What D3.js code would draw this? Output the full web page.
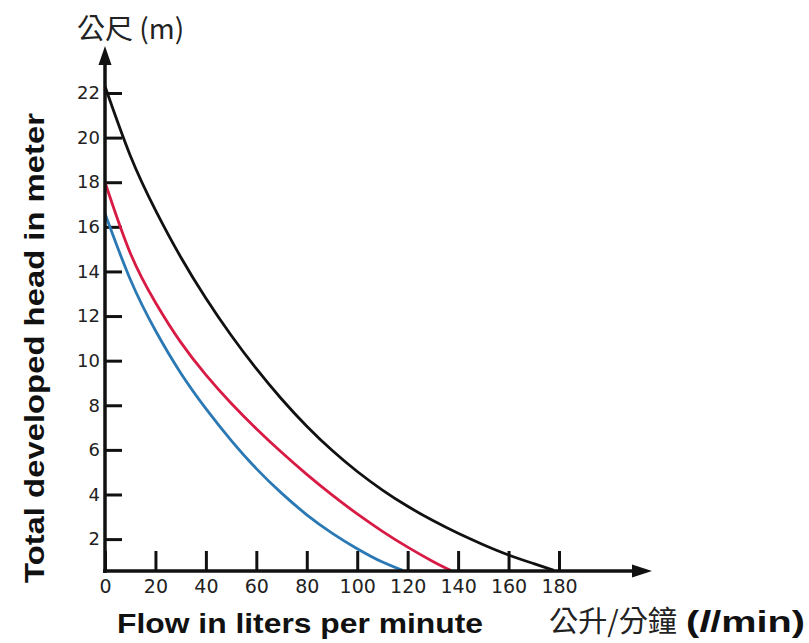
<!DOCTYPE html>
<html>
<head>
<meta charset="utf-8">
<script src="https://cdn.jsdelivr.net/npm/d3@7"></script>
<style>
  html, body { margin: 0; padding: 0; background: #fff; }
  svg { display: block; }
</style>
</head>
<body>
<script>
// ---- data ----
const xTicks = [0, 20, 40, 60, 80, 100, 120, 140, 160, 180];
const yTicks = [2, 4, 6, 8, 10, 12, 14, 16, 18, 20, 22];

const blackFlow = [0, 10, 20, 30, 40, 50, 60, 70, 80, 90, 100, 110, 120, 130, 140, 150, 160, 170, 178];
const blackHead = [22.3, 19.2, 16.75, 14.65, 12.8, 11.14, 9.64, 8.28, 7.06, 5.98, 5.03, 4.2, 3.47, 2.83, 2.26, 1.75, 1.29, 0.9, 0.6];

const redFlow = [0, 10, 20, 30, 40, 50, 60, 70, 80, 90, 100, 110, 120, 130, 137];
const redHead = [18.0, 14.83, 12.61, 10.83, 9.36, 8.09, 6.95, 5.89, 4.9, 3.98, 3.13, 2.35, 1.64, 1.0, 0.6];

const blueFlow = [0, 10, 20, 30, 40, 50, 60, 70, 80, 90, 100, 110, 118];
const blueHead = [16.6, 13.65, 11.35, 9.45, 7.85, 6.43, 5.16, 4.06, 3.09, 2.27, 1.57, 0.97, 0.6];

const seriesList = [
  { flow: blackFlow, head: blackHead, color: "#111111" },
  { flow: redFlow, head: redHead, color: "#d81b45" },
  { flow: blueFlow, head: blueHead, color: "#2a78b4" }
];

const yBase = 0.57; // value at which the horizontal axis is drawn

// ---- layout ----
const W = 809, H = 643;
const svg = d3.select("body").append("svg").attr("width", W).attr("height", H);
svg.append("rect").attr("width", W).attr("height", H).attr("fill", "#fff");

const x = d3.scaleLinear().domain([0, 180]).range([105, 559]);
const y = d3.scaleLinear().domain([yBase, 22]).range([571, 93]);

const axisX0 = x(0), axisY0 = y(yBase);

// x axis ticks (pointing up)
const gx = svg.append("g").attr("transform", `translate(0,${axisY0})`)
  .call(d3.axisBottom(x).tickValues(xTicks).tickSizeInner(-20).tickSizeOuter(0).tickPadding(9));
gx.select(".domain").remove();
gx.selectAll(".tick line").attr("stroke", "#111").attr("stroke-width", 3);
gx.selectAll(".tick text").attr("fill", "#222").style("font-family", "DejaVu Sans, sans-serif").style("font-size", "19px");

// y axis ticks (pointing right)
const gy = svg.append("g").attr("transform", `translate(${axisX0},0)`)
  .call(d3.axisLeft(y).tickValues(yTicks).tickSizeInner(-17).tickSizeOuter(0).tickPadding(5));
gy.select(".domain").remove();
gy.selectAll(".tick line").attr("stroke", "#111").attr("stroke-width", 3);
gy.selectAll(".tick text").attr("fill", "#222").style("font-family", "DejaVu Sans, sans-serif").style("font-size", "18px");

// curves
const line = d3.line().x(d => x(d[0])).y(d => y(d[1])).curve(d3.curveNatural);
seriesList.forEach(s => {
  svg.append("path")
    .datum(s.flow.map((f, i) => [f, s.head[i]]))
    .attr("d", line)
    .attr("fill", "none")
    .attr("stroke", s.color)
    .attr("stroke-width", 2.8);
});

// axis lines with arrowheads
svg.append("line").attr("x1", axisX0).attr("y1", axisY0 + 2).attr("x2", axisX0).attr("y2", 58)
  .attr("stroke", "#111").attr("stroke-width", 3.5);
svg.append("polygon")
  .attr("points", `${axisX0},46 ${axisX0 - 6.5},65 ${axisX0 + 6.5},65`).attr("fill", "#111");
svg.append("line").attr("x1", axisX0 - 2).attr("y1", axisY0).attr("x2", 640).attr("y2", axisY0)
  .attr("stroke", "#111").attr("stroke-width", 3.5);
svg.append("polygon")
  .attr("points", `652,${axisY0} 632,${axisY0 - 6.5} 632,${axisY0 + 6.5}`).attr("fill", "#111");

// titles
svg.append("text").attr("x", 77).attr("y", 39)
  .style("font-family", "'Noto Sans CJK TC', sans-serif").style("font-size", "28px").attr("fill", "#222")
  .text("公尺 (m)");

svg.append("text").attr("transform", "translate(44,348) rotate(-90)")
  .attr("text-anchor", "middle")
  .attr("textLength", 470).attr("lengthAdjust", "spacingAndGlyphs")
  .style("font-family", "'Liberation Sans', Arial, sans-serif").style("font-weight", "bold").style("font-size", "28px")
  .attr("fill", "#111")
  .text("Total developed head in meter");

svg.append("text").attr("x", 117).attr("y", 633)
  .attr("textLength", 366).attr("lengthAdjust", "spacingAndGlyphs")
  .style("font-family", "'Liberation Sans', Arial, sans-serif").style("font-weight", "bold").style("font-size", "28px")
  .attr("fill", "#111")
  .text("Flow in liters per minute");

svg.append("text").attr("x", 549).attr("y", 632)
  .attr("textLength", 128).attr("lengthAdjust", "spacingAndGlyphs")
  .style("font-family", "'Noto Sans CJK TC', sans-serif").style("font-size", "29px").attr("fill", "#222")
  .text("公升/分鐘");

const unit = svg.append("text").attr("x", 686).attr("y", 632)
  .attr("textLength", 119).attr("lengthAdjust", "spacingAndGlyphs")
  .style("font-family", "'Liberation Sans', Arial, sans-serif").style("font-weight", "bold").style("font-size", "29px")
  .attr("fill", "#111");
unit.append("tspan").text("(");
unit.append("tspan").style("font-style", "italic").text("l");
unit.append("tspan").text("/min)");
</script>
</body>
</html>
